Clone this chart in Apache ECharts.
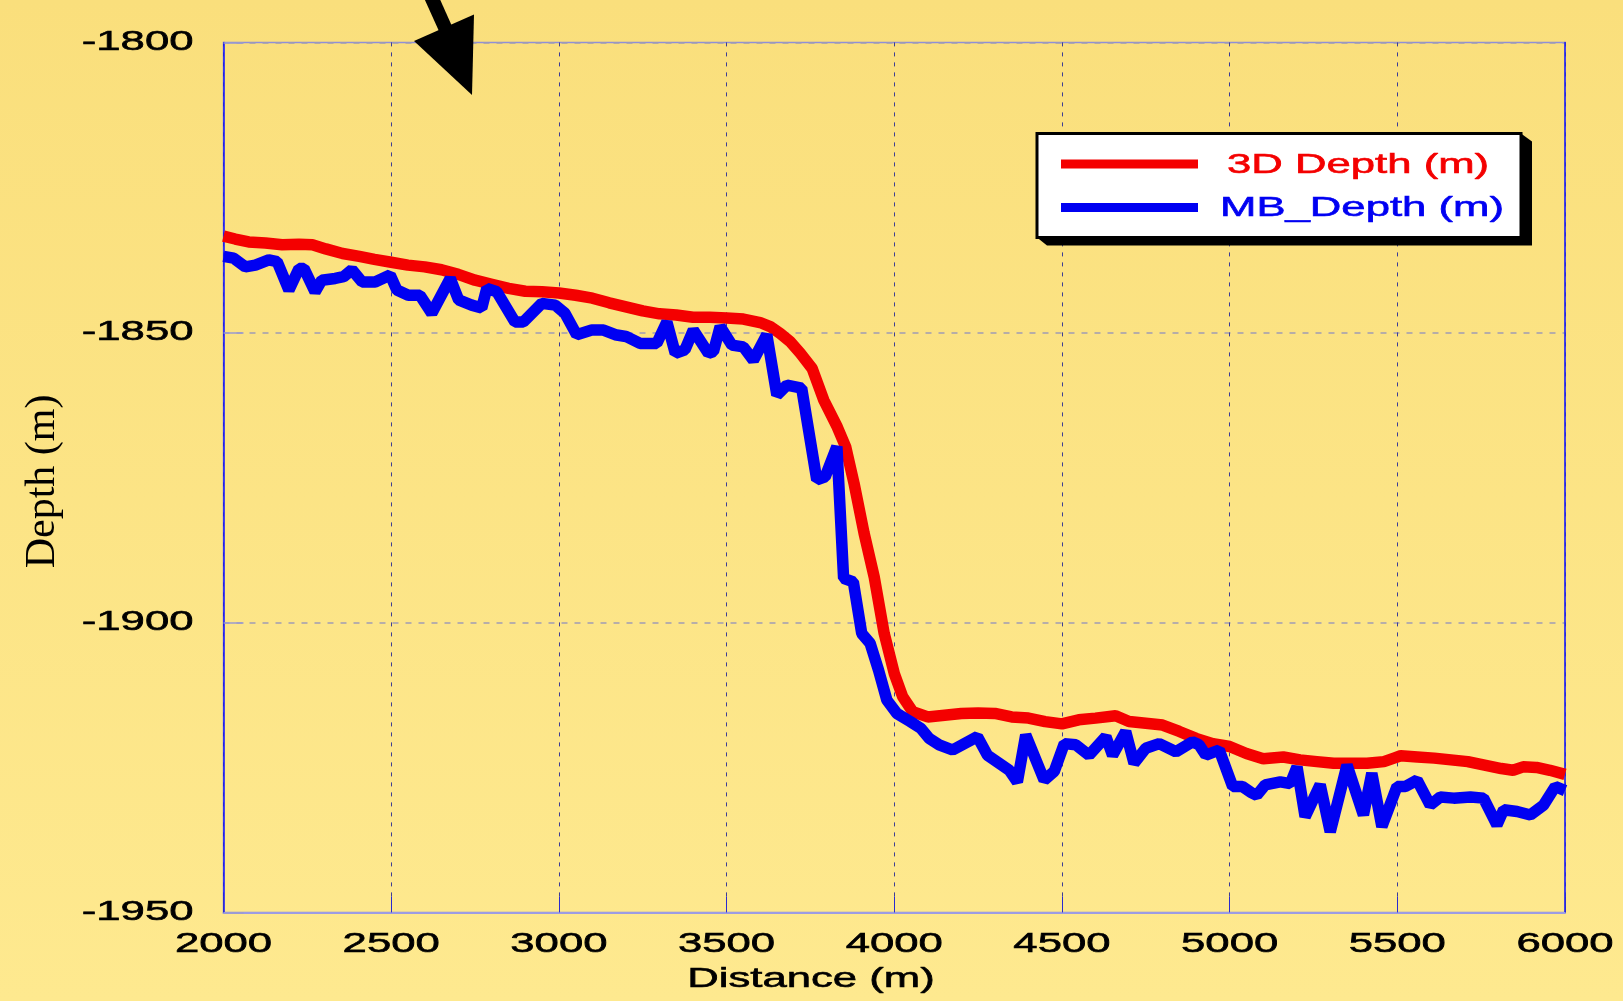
<!DOCTYPE html>
<html>
<head>
<meta charset="utf-8">
<title>Depth profile</title>
<script src="https://cdn.jsdelivr.net/npm/echarts@6/dist/echarts.min.js"></script>
<style>
  html, body { margin: 0; padding: 0; background: #fde688; }
  #chart { width: 1623px; height: 1001px; }
</style>
</head>
<body>
<div id="chart"></div>
<script>
// 3D seismic depth along the profile (distance in m, depth in m)
const distance3D = [2000, 2035, 2075, 2125, 2175, 2225, 2265, 2305, 2355, 2405, 2450, 2500, 2550, 2600, 2650, 2700,
  2750, 2800, 2850, 2900, 2950, 3000, 3050, 3100, 3150, 3200, 3250, 3300, 3350, 3400, 3450, 3500, 3550, 3600, 3630,
  3660, 3690, 3720, 3755, 3790, 3830, 3855, 3880, 3910, 3940, 3970, 4000, 4025, 4055, 4100, 4150, 4200, 4250, 4300,
  4350, 4400, 4450, 4500, 4550, 4600, 4660, 4700, 4750, 4800, 4850, 4900, 4950, 5000, 5050, 5100, 5160, 5210, 5260,
  5310, 5360, 5410, 5460, 5490, 5510, 5560, 5610, 5660, 5710, 5760, 5810, 5845, 5875, 5915, 5955, 6000];
const depth3D = [-1833.4, -1833.9, -1834.4, -1834.6, -1834.9, -1834.8, -1834.9, -1835.6, -1836.4, -1836.9, -1837.4,
  -1837.9, -1838.4, -1838.7, -1839.2, -1840.0, -1841.0, -1841.7, -1842.4, -1842.9, -1843.0, -1843.2, -1843.6, -1844.1,
  -1844.9, -1845.6, -1846.3, -1846.8, -1847.0, -1847.4, -1847.4, -1847.5, -1847.7, -1848.3, -1849.0, -1850.2, -1851.6,
  -1853.6, -1856.2, -1861.7, -1866.3, -1869.7, -1876.0, -1884.6, -1892.1, -1901.9, -1908.8, -1912.8, -1915.4, -1916.3,
  -1916.0, -1915.7, -1915.6, -1915.7, -1916.3, -1916.5, -1917.1, -1917.5, -1916.8, -1916.5, -1916.1, -1917.1, -1917.4,
  -1917.7, -1918.8, -1920.0, -1920.9, -1921.4, -1922.6, -1923.5, -1923.2, -1923.7, -1924.0, -1924.3, -1924.3, -1924.3,
  -1924.0, -1923.4, -1923.0, -1923.2, -1923.4, -1923.7, -1924.0, -1924.6, -1925.2, -1925.5, -1924.9, -1925.0, -1925.5,
  -1926.2];

// Multibeam bathymetry depth along the same profile
const distanceMB = [2000, 2030, 2065, 2095, 2135, 2160, 2195, 2225, 2240, 2273, 2293, 2333, 2358, 2383, 2413, 2452,
  2497, 2517, 2551, 2586, 2621, 2676, 2701, 2740, 2770, 2785, 2815, 2869, 2894, 2949, 2989, 3018, 3053, 3098, 3133,
  3168, 3200, 3242, 3292, 3322, 3347, 3376, 3401, 3446, 3461, 3481, 3516, 3550, 3580, 3620, 3650, 3680, 3724, 3769,
  3794, 3829, 3849, 3878, 3903, 3928, 3953, 3978, 4008, 4048, 4080, 4104, 4134, 4174, 4248, 4278, 4343, 4367, 4392,
  4447, 4477, 4507, 4541, 4581, 4631, 4651, 4690, 4715, 4750, 4790, 4840, 4889, 4909, 4929, 4969, 5009, 5038, 5063,
  5081, 5106, 5151, 5181, 5201, 5225, 5270, 5300, 5350, 5399, 5424, 5454, 5499, 5524, 5559, 5598, 5628, 5668, 5718,
  5757, 5797, 5817, 5857, 5897, 5936, 5971, 6000];
const depthMB = [-1836.9, -1837.2, -1838.7, -1838.4, -1837.5, -1837.8, -1842.7, -1839.0, -1839.0, -1843.0, -1841.0,
  -1840.7, -1840.4, -1839.2, -1841.3, -1841.3, -1840.1, -1842.7, -1843.6, -1843.6, -1846.7, -1840.7, -1844.4, -1845.3,
  -1845.8, -1842.4, -1843.0, -1848.2, -1848.2, -1845.0, -1845.3, -1846.7, -1850.4, -1849.6, -1849.6, -1850.4, -1850.7,
  -1851.9, -1851.9, -1848.2, -1853.6, -1853.0, -1849.6, -1853.6, -1853.3, -1849.0, -1852.2, -1852.5, -1854.8, -1850.4,
  -1860.8, -1859.1, -1859.6, -1875.4, -1874.9, -1869.7, -1892.4, -1893.0, -1901.9, -1903.6, -1908.2, -1913.4, -1915.7,
  -1917.1, -1918.3, -1920.0, -1921.1, -1922.0, -1919.7, -1922.9, -1925.5, -1927.5, -1919.4, -1927.2, -1925.7, -1920.9,
  -1921.1, -1922.9, -1919.7, -1922.9, -1918.8, -1924.3, -1921.7, -1920.9, -1922.3, -1920.6, -1921.1, -1922.9, -1922.0,
  -1928.3, -1928.3, -1929.3, -1929.8, -1928.0, -1927.5, -1927.8, -1924.9, -1933.5, -1928.0, -1936.1, -1924.6, -1933.2,
  -1926.0, -1935.2, -1928.3, -1928.3, -1927.2, -1931.5, -1930.1, -1930.3, -1930.1, -1930.3, -1934.9, -1932.3, -1932.6,
  -1933.2, -1931.5, -1928.3, -1929.0];

const xTickLabels = [2000, 2500, 3000, 3500, 4000, 4500, 5000, 5500, 6000];
const yTickLabels = [-1800, -1850, -1900, -1950];
const seriesNames = ['3D Depth (m)', 'MB_Depth (m)'];
const xAxisTitle = 'Distance (m)';
const yAxisTitle = 'Depth (m)';

const RED = '#f40000';
const BLUE = '#0000f2';
const SANS = '"Liberation Sans", Arial, Helvetica, sans-serif';
const LABEL_FONT = '28px ' + SANS;
const WIDE = 1.56; // horizontal stretch of the sans-serif lettering
const LINE_W = 11.5;

const chart = echarts.init(document.getElementById('chart'), null, { renderer: 'canvas' });
const pairs = (xs, ys) => xs.map((x, i) => [x, ys[i]]);

chart.setOption({
  animation: false,
  backgroundColor: {
    type: 'linear', x: 0, y: 0, x2: 0, y2: 1,
    colorStops: [{ offset: 0, color: '#fadf7c' }, { offset: 1, color: '#fee98f' }]
  },
  grid: {
    left: 223.5, right: 58, top: 42.4, bottom: 88.6,
    show: true, borderColor: '#8f8fd8', borderWidth: 1.5, backgroundColor: 'transparent'
  },
  xAxis: {
    type: 'value', min: 2000, max: 6000, interval: 500,
    axisLine: { show: true, onZero: false, lineStyle: { color: '#9c9ce4', width: 2 } },
    axisTick: { show: true, inside: true, length: 16, lineStyle: { color: '#2a2ad0', width: 1 } },
    axisLabel: { show: false },
    splitLine: { show: true, lineStyle: { color: '#3c3c96', width: 1, type: [4, 6] } }
  },
  yAxis: [{
    type: 'value', min: -1950, max: -1800, interval: 50,
    axisLine: { show: true, onZero: false, lineStyle: { color: '#1414ff', width: 1.5 } },
    axisTick: { show: true, inside: true, length: 20, lineStyle: { color: '#9a9ad0', width: 1.5 } },
    axisLabel: { show: false },
    splitLine: { show: true, lineStyle: { color: '#a09cb4', width: 1.5, type: [6, 7] } }
  }, {
    type: 'value', position: 'right', min: -1950, max: -1800, interval: 50,
    axisLine: { show: true, onZero: false, lineStyle: { color: '#2020f0', width: 1.5 } },
    axisTick: { show: false }, axisLabel: { show: false }, splitLine: { show: false }
  }],
  series: [{
    name: seriesNames[0], type: 'line', data: pairs(distance3D, depth3D),
    symbol: 'none', clip: false, z: 2,
    lineStyle: { color: RED, width: LINE_W, join: 'bevel', cap: 'butt' }, itemStyle: { color: RED }
  }, {
    name: seriesNames[1], type: 'line', data: pairs(distanceMB, depthMB),
    symbol: 'none', clip: false, z: 3,
    lineStyle: { color: BLUE, width: LINE_W, join: 'bevel', cap: 'butt' }, itemStyle: { color: BLUE }
  }]
});

// Axis lettering, legend and arrow are placed from the axis scales
const px = v => chart.convertToPixel({ xAxisIndex: 0 }, v);
const py = v => chart.convertToPixel({ yAxisIndex: 0 }, v);

function wideText(text, x, y, align, fill) {
  const c = fill || '#000';
  return {
    type: 'text', x, y, scaleX: WIDE, silent: true, z: 50,
    style: {
      text, font: LABEL_FONT, fill: c, stroke: c, lineWidth: 0.6,
      align, textAlign: align, verticalAlign: 'middle', textVerticalAlign: 'middle'
    }
  };
}

const plotBottom = py(-1950);
const plotLeft = px(2000);
const elements = [];

xTickLabels.forEach(v => elements.push(wideText(String(v), px(v), plotBottom + 32, 'center')));
yTickLabels.forEach(v => elements.push(wideText(String(v), plotLeft - 30, py(v), 'right')));
elements.push(wideText(xAxisTitle, 811, plotBottom + 67, 'center'));
elements.push({
  type: 'text', x: 43, y: (py(-1800) + plotBottom) / 2 + 4, rotation: Math.PI / 2, silent: true, z: 50,
  style: {
    text: yAxisTitle, font: '42px "Liberation Serif", "Times New Roman", serif', fill: '#000',
    align: 'center', textAlign: 'center', verticalAlign: 'middle', textVerticalAlign: 'middle'
  }
});

// Legend box with its black extruded shadow
const L = 1037, T = 133.5, W = 484, H = 104;
elements.push({
  type: 'polygon', silent: true, z: 60,
  shape: { points: [[L + W, T], [L + W + 11, T + 8], [L + W + 11, T + H + 8], [L + 10, T + H + 8], [L, T + H]] },
  style: { fill: '#000' }
});
elements.push({
  type: 'rect', silent: true, z: 61,
  shape: { x: L, y: T, width: W, height: H },
  style: { fill: '#ffffff', stroke: '#000', lineWidth: 3 }
});
elements.push({
  type: 'line', silent: true, z: 62,
  shape: { x1: L + 24, y1: T + 30.5, x2: L + 161, y2: T + 30.5 },
  style: { stroke: RED, lineWidth: 9 }
});
elements.push({
  type: 'line', silent: true, z: 62,
  shape: { x1: L + 24, y1: T + 74, x2: L + 161, y2: T + 74 },
  style: { stroke: BLUE, lineWidth: 9 }
});
const r1 = wideText(seriesNames[0], L + 190, T + 32, 'left', RED); r1.z = 63;
const r2 = wideText(seriesNames[1], L + 183, T + 75, 'left', BLUE); r2.z = 63;
elements.push(r1, r2);

// Pointer arrow at the top of the plot
elements.push({
  type: 'line', silent: true, z: 40,
  shape: { x1: 429, y1: -8, x2: 447, y2: 32 },
  style: { stroke: '#000', lineWidth: 14 }
});
elements.push({
  type: 'polygon', silent: true, z: 41,
  shape: { points: [[414, 41], [474, 14.5], [472, 95]] },
  style: { fill: '#000' }
});

chart.setOption({ graphic: { elements } });
</script>
</body>
</html>
